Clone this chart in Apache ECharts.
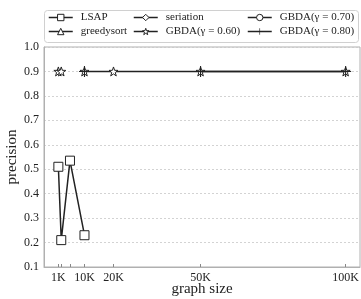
<!DOCTYPE html>
<html>
<head>
<meta charset="utf-8">
<script src="https://cdn.jsdelivr.net/npm/echarts@6/dist/echarts.min.js"></script>
<style>
  html, body { margin: 0; padding: 0; background: #fff; }
  #chart { width: 361px; height: 299px; }
</style>
</head>
<body>
<div id="chart"></div>
<script>
// graph sizes on the x axis
const sizes = [1000, 2000, 5000, 10000, 20000, 50000, 100000]
const tickSizes = [1000, 2000, 5000, 10000, 20000, 50000, 100000]
const labelSizes = [1000, 10000, 20000, 50000, 100000]

// precision per method (null = no run)
const lsap = [0.51, 0.21, 0.535, 0.23, null, null, null]
const greedysort = []
const seriation = []
const gbda060 = [0.9, 0.9, null, 0.9, 0.9, 0.9, 0.9]
const gbda070 = []
const gbda080 = [null, null, null, 0.9, null, 0.9, 0.9]

const yTicks = [0.1, 0.2, 0.3, 0.4, 0.5, 0.6, 0.7, 0.8, 0.9, 1.0]

const font = '"Liberation Serif", "DejaVu Serif", serif'
const ink = '#222'

const star = 'path://M0,-10 L2.35,-3.24 9.51,-3.09 3.8,1.24 5.88,8.09 0,4 -5.88,8.09 -3.8,1.24 -9.51,-3.09 -2.35,-3.24Z'
const plus = 'path://M-1,-10 H1 V-1 H10 V1 H1 V10 H-1 V1 H-10 V-1 H-1Z'

const methods = [
  { name: 'LSAP', vals: lsap, symbol: 'rect', size: 9, filled: false, z: 3 },
  { name: 'greedysort', vals: greedysort, symbol: 'triangle', size: 9, filled: false, z: 2 },
  { name: 'seriation', vals: seriation, symbol: 'diamond', size: 9, filled: false, z: 2 },
  { name: 'GBDA(γ = 0.60)', vals: gbda060, symbol: star, size: 9, filled: false, z: 3 },
  { name: 'GBDA(γ = 0.70)', vals: gbda070, symbol: 'circle', size: 5, filled: false, z: 2 },
  { name: 'GBDA(γ = 0.80)', vals: gbda080, symbol: plus, size: 11, filled: true, z: 4 }
]

const styleOf = m => ({ color: m.filled ? ink : '#fff', borderColor: ink, borderWidth: m.filled ? 0 : 1 })

const series = methods.map(m => ({
  name: m.name,
  type: 'line',
  data: m.vals.length ? sizes.map((s, i) => [s, m.vals[i]]) : [],
  connectNulls: false,
  symbol: m.symbol,
  symbolSize: m.size,
  showAllSymbol: true,
  z: m.z,
  lineStyle: { color: ink, width: 1.5 },
  itemStyle: styleOf(m),
  emphasis: { disabled: true }
}))

const legendItem = m => ({
  name: m.name,
  itemStyle: styleOf(m),
  lineStyle: { color: ink, width: 1.5 }
})

const legendBase = {
  orient: 'vertical',
  itemWidth: 24,
  itemHeight: 8,
  itemGap: 3,
  textStyle: { fontFamily: font, fontSize: 11, color: ink, padding: [0, 0, 0, 3] },
  selectedMode: false
}

const chart = echarts.init(document.getElementById('chart'))

chart.setOption({
  animation: false,
  textStyle: { fontFamily: font },
  grid: {
    left: 44, right: 1, top: 47, bottom: 32,
    outerBoundsMode: 'none',
    show: true, borderColor: '#b0b0b0', borderWidth: 1
  },
  legend: [
    Object.assign({}, legendBase, { left: 43, top: 7, data: [legendItem(methods[0]), legendItem(methods[1])] }),
    Object.assign({}, legendBase, { left: 128, top: 7, data: [legendItem(methods[2]), legendItem(methods[3])] }),
    Object.assign({}, legendBase, { left: 242, top: 7, data: [legendItem(methods[4]), legendItem(methods[5])] })
  ],
  graphic: [{
    type: 'rect',
    shape: { x: 44.5, y: 10.5, width: 314, height: 32, r: 3 },
    style: { fill: 'none', stroke: '#d0d0d0', lineWidth: 1 },
    z: -1
  }],
  xAxis: {
    type: 'value',
    min: -3950,
    max: 104950,
    name: 'graph size',
    nameLocation: 'middle',
    nameGap: 22,
    nameMoveOverlap: false,
    nameTextStyle: { fontFamily: font, fontSize: 15, color: ink, verticalAlign: 'middle' },
    axisLine: { show: true, onZero: false, lineStyle: { color: '#b0b0b0' } },
    axisTick: { show: true, inside: true, length: 3, customValues: tickSizes, lineStyle: { color: '#888' } },
    axisLabel: {
      customValues: labelSizes,
      fontFamily: font, fontSize: 12, color: ink, margin: 5,
      formatter: v => (v / 1000) + 'K'
    },
    splitLine: { show: false }
  },
  yAxis: {
    type: 'value',
    min: 0.1,
    max: 1.0,
    interval: 0.1,
    name: 'precision',
    nameLocation: 'middle',
    nameGap: 24,
    nameMoveOverlap: false,
    nameTextStyle: { fontFamily: font, fontSize: 15, color: ink },
    axisLine: { show: true, onZero: false, lineStyle: { color: '#b0b0b0' } },
    axisTick: { show: false },
    axisLabel: {
      customValues: yTicks,
      fontFamily: font, fontSize: 12, color: ink, margin: 5,
      formatter: v => v.toFixed(1)
    },
    splitLine: { show: true, lineStyle: { color: '#c8c8c8', type: [2, 2], width: 0.8 } }
  },
  series
})
</script>
</body>
</html>
